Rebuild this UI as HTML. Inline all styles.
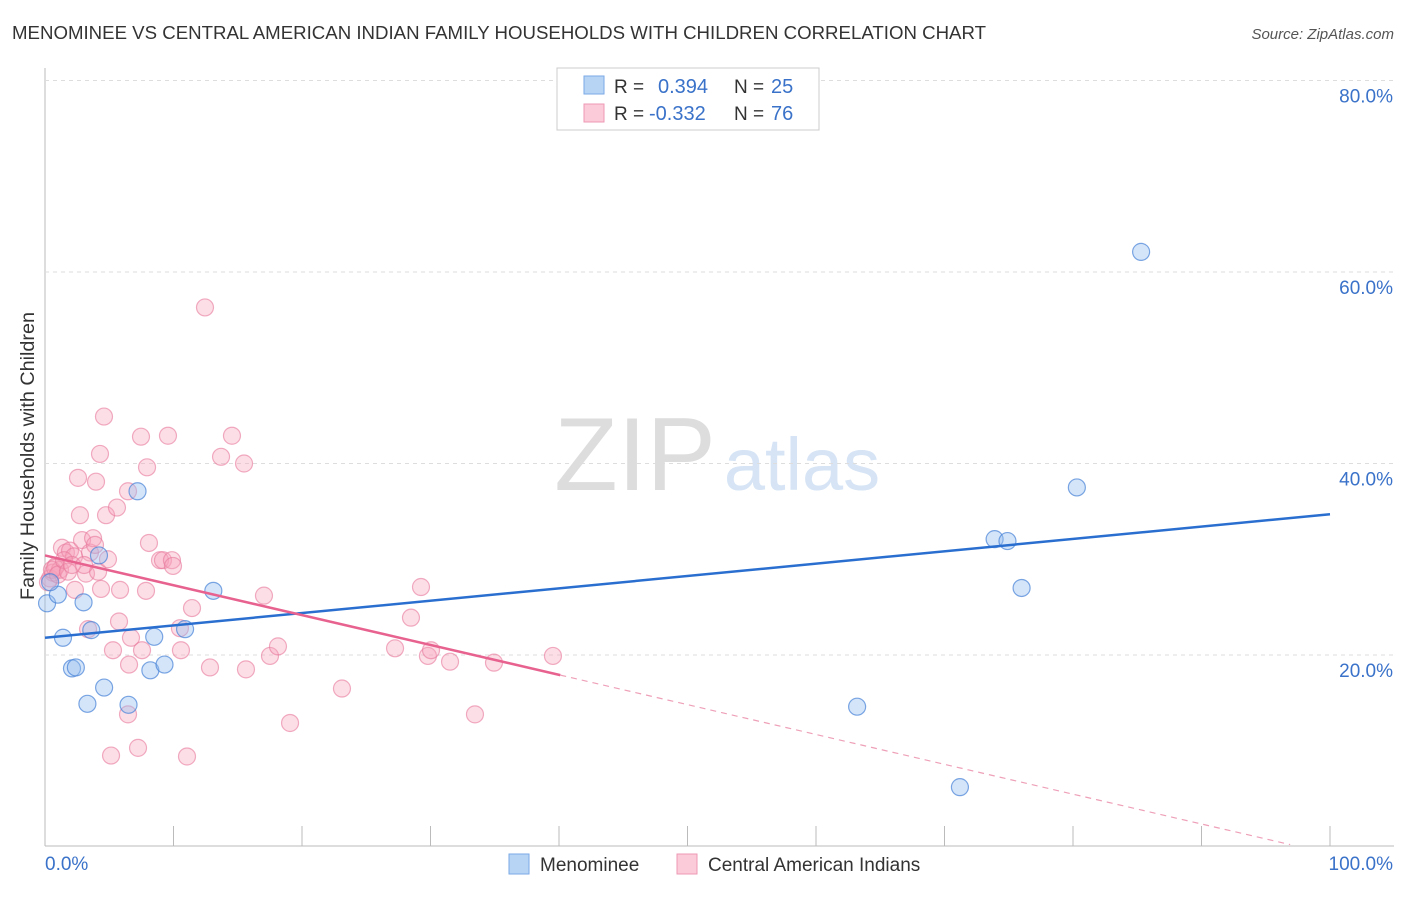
<!DOCTYPE html>
<html><head><meta charset="utf-8"><style>
body{margin:0;background:#fff;font-family:"Liberation Sans",sans-serif}
svg text{font-family:"Liberation Sans",sans-serif}
</style></head><body>
<svg id="c" width="1406" height="892" xmlns="http://www.w3.org/2000/svg">
<text x="12" y="39" font-size="18" fill="#333" textLength="974" lengthAdjust="spacingAndGlyphs">MENOMINEE VS CENTRAL AMERICAN INDIAN FAMILY HOUSEHOLDS WITH CHILDREN CORRELATION CHART</text>
<text x="1394" y="39" font-size="15" fill="#555" font-style="italic" text-anchor="end">Source: ZipAtlas.com</text>
<text x="34" y="456" font-size="19" fill="#333" text-anchor="middle" transform="rotate(-90 34 456)" textLength="288" lengthAdjust="spacingAndGlyphs">Family Households with Children</text>
<g><text x="635" y="490" font-size="104" fill="#ddd" font-family="Liberation Serif" text-anchor="middle">ZIP</text><text x="802" y="490" font-size="74" fill="#d6e4f5" text-anchor="middle">atlas</text></g>
<g id="grid"></g><g id="pts"></g><g id="lines"></g>
<g>
<rect x="557" y="68" width="262" height="62" fill="#fff" stroke="#ccc"/>
<rect x="584" y="76" width="20" height="18" fill="#b8d4f5" stroke="#7aaae6"/>
<rect x="584" y="104" width="20" height="18" fill="#fbcbd9" stroke="#ef9ab4"/>
<text x="614" y="93" font-size="19" fill="#333">R =</text>
<text x="658" y="93" font-size="20" fill="#3a72c9">0.394</text>
<text x="734" y="93" font-size="19" fill="#333">N =</text>
<text x="771" y="93" font-size="20" fill="#3a72c9">25</text>
<text x="614" y="120" font-size="19" fill="#333">R =</text>
<text x="649" y="120" font-size="20" fill="#3a72c9">-0.332</text>
<text x="734" y="120" font-size="19" fill="#333">N =</text>
<text x="771" y="120" font-size="20" fill="#3a72c9">76</text>
</g>
<g>
<rect x="509" y="854" width="20" height="20" fill="#b8d4f5" stroke="#7aaae6"/>
<text x="540" y="871" font-size="19" fill="#333">Menominee</text>
<rect x="677" y="854" width="20" height="20" fill="#fbcbd9" stroke="#ef9ab4"/>
<text x="708" y="871" font-size="19" fill="#333">Central American Indians</text>
</g>
</svg>
<script>
const yTicks=[20,40,60,80];
const yTickLabels=["20.0%","40.0%","60.0%","80.0%"];
const xTickLabels=["0.0%","100.0%"];
const blueX=[0.16,1.0,1.4,2.1,2.4,3.0,3.3,3.6,4.2,4.6,6.5,7.2,8.2,8.5,9.3,10.9,13.1,63.2,71.2,73.9,74.9,76.0,80.3,85.3,0.4];
const blueY=[25.4,26.3,21.8,18.6,18.7,25.5,14.9,22.6,30.4,16.6,14.8,37.1,18.4,21.9,19.0,22.7,26.7,14.6,6.2,32.1,31.9,27.0,37.5,62.1,27.6];
const pinkX=[0.86,0.39,0.62,1.17,1.32,1.63,1.95,2.26,2.33,2.57,2.72,2.88,3.19,3.35,3.5,3.74,3.97,4.13,4.28,4.36,4.59,4.75,4.9,5.14,5.29,5.6,5.76,5.84,6.46,6.46,6.69,6.54,7.24,7.47,7.55,7.86,7.94,8.09,8.95,9.18,9.57,9.88,9.96,10.5,10.58,11.05,11.44,12.45,12.84,13.7,14.55,15.49,15.64,17.04,17.51,18.13,19.07,23.11,27.24,28.48,29.26,29.8,30.04,31.52,33.46,34.94,39.53,0.23,0.54,0.78,1.01,1.48,1.79,2.1,3.04,3.89];
const pinkY=[29.3,28.0,28.6,28.9,31.2,30.7,30.9,30.3,26.8,38.5,34.6,32.0,28.5,22.7,30.7,32.2,38.1,28.7,41.0,26.9,44.9,34.6,30.0,9.5,20.5,35.4,23.5,26.8,37.1,13.8,21.8,19.0,10.3,42.8,20.5,26.7,39.6,31.7,29.9,29.9,42.9,29.9,29.3,22.8,20.5,9.4,24.9,56.3,18.7,40.7,42.9,40.0,18.5,26.2,19.9,20.9,12.9,16.5,20.7,23.9,27.1,19.9,20.5,19.3,13.8,19.2,19.9,27.6,28.9,29.1,28.4,29.9,28.7,29.4,29.4,31.5];
const blueLine=[[0,21.8],[100,34.7]];
const pinkLine=[[0,30.4],[40.1,17.9]];
const pinkDash=[[40.1,17.9],[96.9,0.2]];
const NS="http://www.w3.org/2000/svg";
const X=v=>45+v*12.85, Y=v=>846.5-v*9.575;
function mk(t,a,p){const e=document.createElementNS(NS,t);for(const k in a)e.setAttribute(k,a[k]);p.appendChild(e);return e;}
const g=document.getElementById('grid');
const ax=mk('line',{x1:45,y1:68,x2:45,y2:846,stroke:'#bbb'},g);


const bx=mk('line',{x1:45,y1:846,x2:1394,y2:846,stroke:'#bbb'},g);


yTicks.forEach((t,i)=>{
  const l=mk('line',{x1:45,y1:Y(t),x2:1394,y2:Y(t),stroke:'#ddd','stroke-dasharray':'4,4'},g);
  
  
  const tx=mk('text',{x:1393,y:Y(t)+22,'font-size':19,fill:'#3a72c9','text-anchor':'end'},g);
  tx.textContent=yTickLabels[i];
  
  
});
for(let i=1;i<=10;i++){const l=mk('line',{x1:X(i*10),y1:826,x2:X(i*10),y2:846,stroke:'#bbb'},g);
  
  }
const t0=mk('text',{x:45,y:870,'font-size':19,fill:'#3a72c9'},g);t0.textContent=xTickLabels[0];


const t1=mk('text',{x:1393,y:870,'font-size':19,fill:'#3a72c9','text-anchor':'end'},g);t1.textContent=xTickLabels[1];


const p=document.getElementById('pts');
pinkX.forEach((x,i)=>{const c=mk('circle',{cx:X(x),cy:Y(pinkY[i]),r:8.5,fill:'rgba(245,160,185,0.35)',stroke:'rgba(232,120,155,0.6)','stroke-width':1.2},p);
  
  });
blueX.forEach((x,i)=>{const c=mk('circle',{cx:X(x),cy:Y(blueY[i]),r:8.5,fill:'rgba(150,190,240,0.4)',stroke:'rgba(70,130,215,0.7)','stroke-width':1.2},p);
  
  });
const L=document.getElementById('lines');
const b=mk('line',{x1:X(blueLine[0][0]),y1:Y(blueLine[0][1]),x2:X(blueLine[1][0]),y2:Y(blueLine[1][1]),stroke:'#2a6fd0','stroke-width':2.5},L);


const pl=mk('line',{x1:X(pinkLine[0][0]),y1:Y(pinkLine[0][1]),x2:X(pinkLine[1][0]),y2:Y(pinkLine[1][1]),stroke:'#e8628f','stroke-width':2.5},L);


const pd=mk('line',{x1:X(pinkDash[0][0]),y1:Y(pinkDash[0][1]),x2:X(pinkDash[1][0]),y2:Y(pinkDash[1][1]),stroke:'#eea0b8','stroke-width':1.2,'stroke-dasharray':'6,5'},L);


</script>
</body></html>
